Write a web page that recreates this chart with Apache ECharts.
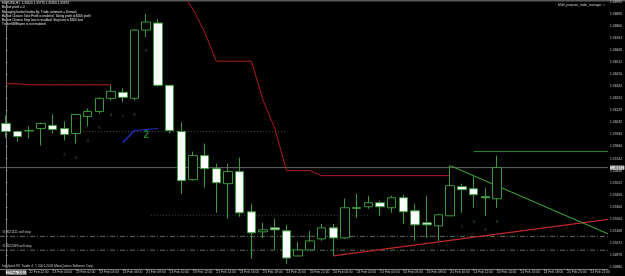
<!DOCTYPE html>
<html><head><meta charset="utf-8">
<script src="https://cdn.jsdelivr.net/npm/echarts@6/dist/echarts.min.js"></script>
<style>html,body{margin:0;padding:0;background:#000;}#c{width:625px;height:276px;}</style>
</head><body><div id="c"></div>
<script>
// ---- data ----
const times = [
 '22 Feb 20:00','22 Feb 21:00','22 Feb 22:00','22 Feb 23:00',
 '23 Feb 00:00','23 Feb 01:00','23 Feb 02:00','23 Feb 03:00','23 Feb 04:00','23 Feb 05:00',
 '23 Feb 06:00','23 Feb 07:00','23 Feb 08:00','23 Feb 09:00','23 Feb 10:00','23 Feb 11:00',
 '23 Feb 12:00','23 Feb 13:00','23 Feb 14:00','23 Feb 15:00','23 Feb 16:00','23 Feb 17:00',
 '23 Feb 18:00','23 Feb 19:00','23 Feb 20:00','23 Feb 21:00','23 Feb 22:00','23 Feb 23:00',
 '24 Feb 00:00','24 Feb 01:00','24 Feb 02:00','24 Feb 03:00','24 Feb 04:00','24 Feb 05:00',
 '24 Feb 06:00','24 Feb 07:00','24 Feb 08:00','24 Feb 09:00','24 Feb 10:00','24 Feb 11:00',
 '24 Feb 12:00','24 Feb 13:00','24 Feb 14:00','24 Feb 15:00','24 Feb 16:00','24 Feb 17:00',
 '24 Feb 18:00','24 Feb 19:00','24 Feb 20:00','24 Feb 21:00','24 Feb 22:00','24 Feb 23:00'
];
// [open, close, low, high]
const ohlc = [
 [1.36024,1.35960,1.35912,1.36088],
 [1.35960,1.35920,1.35880,1.35968],
 [1.35964,1.35968,1.35904,1.36000],
 [1.35984,1.36024,1.35848,1.36032],
 [1.36008,1.35976,1.35944,1.36096],
 [1.35984,1.35936,1.35888,1.36040],
 [1.35944,1.36096,1.35864,1.36096],
 [1.36080,1.36120,1.36000,1.36144],
 [1.36120,1.36224,1.36104,1.36232],
 [1.36224,1.36280,1.36208,1.36328],
 [1.36272,1.36232,1.36192,1.36304],
 [1.36224,1.36768,1.36208,1.36776],
 [1.36768,1.36832,1.36712,1.36896],
 [1.36824,1.36328,1.36320,1.36856],
 [1.36328,1.35968,1.35944,1.36328],
 [1.35960,1.35568,1.35464,1.36032],
 [1.35576,1.35768,1.35568,1.35800],
 [1.35768,1.35664,1.35512,1.35864],
 [1.35664,1.35552,1.35312,1.35704],
 [1.35544,1.35640,1.35264,1.35704],
 [1.35640,1.35312,1.35280,1.35752],
 [1.35320,1.35152,1.34944,1.35384],
 [1.35160,1.35176,1.35112,1.35232],
 [1.35192,1.35176,1.35016,1.35264],
 [1.35168,1.34952,1.34904,1.35216],
 [1.34968,1.35016,1.34968,1.35080],
 [1.35016,1.35088,1.35016,1.35168],
 [1.35104,1.35192,1.35088,1.35224],
 [1.35192,1.35112,1.34968,1.35224],
 [1.35112,1.35352,1.35104,1.35424],
 [1.35352,1.35348,1.35272,1.35464],
 [1.35360,1.35392,1.35344,1.35448],
 [1.35392,1.35360,1.35288,1.35408],
 [1.35352,1.35432,1.35312,1.35448],
 [1.35432,1.35320,1.35224,1.35456],
 [1.35328,1.35216,1.35088,1.35384],
 [1.35232,1.35216,1.35112,1.35448],
 [1.35208,1.35296,1.35088,1.35304],
 [1.35288,1.35528,1.35288,1.35688],
 [1.35520,1.35496,1.35312,1.35544],
 [1.35504,1.35456,1.35352,1.35600],
 [1.35440,1.35432,1.35288,1.35512],
 [1.35424,1.35672,1.35352,1.35768]
];
const redLine = [1.36340,1.36340,1.36332,1.36332,1.36332,1.36332,1.36332,1.36332,1.36332,1.36332,
 null,null,null,null,null,
 1.37072,1.36936,1.36752,1.36520,1.36520,1.36520,1.36520,1.36208,1.35984,1.35648,1.35648,1.35648,
 1.35608,1.35608,1.35608,1.35608,1.35608,1.35608,1.35608,1.35608,1.35608,1.35608,1.35608,1.35608];
const blueLine = [null,null,null,null,null,null,null,null,null,null,1.35872,1.35968,1.35976,1.35984];
const countBars = [5,6,7,8,9,10,11,12,39,40,41,42];
const countText = ['2','3','4','5','6','7','8','9','2','3','4','5'];
const redTrend = [[28,1.34968],[51.5,1.35260]];
const greenTrend = [[38,1.35688],[51.5,1.35144]];
const greenLevel = [[40,1.35800],[51.5,1.35800]];
const dotLevelA = [[6.35,1.35960],[23.94,1.35960]];
const dotLevelB = [[12.4,1.35292],[31.0,1.35292]];
const orderLevels = [1.35124,1.35014];
const orderNames = ['#18621111 sell stop','#18622083 sell stop'];
const waveLabel = {bar:12, price:1.35928, text:'2'};
const headerLines = [
 'EURUSD,H1  1.35420 1.35770 1.35350 1.35670',
 'Basket profit = 0',
 'Managing basket trades by: Trade comment = Demark',
 'Basket Closure Take Profit is enabled. Taking profit at $500 profit',
 'Basket Closure Stop loss is enabled. Stop loss is $500 loss',
 'TradesWillExpire is not enabled'
];
const eaName = 'Multi_purpose_trade_manager';
const copyright = 'Interbank FX Trader 4, \u00a9 2001-2009 MetaQuotes Software Corp.';
const yMin = 1.34880, yMax = 1.36992, yStep = 0.00096;

// ---- chart ----
const chart = echarts.init(document.getElementById('c'));
const FONT = 'Liberation Sans';
const GREEN = '#3a9a3a';
const lastClose = ohlc[ohlc.length-1][1];

function hline(data, color, type, width){
  return {type:'line', xAxisIndex:1, yAxisIndex:0, data, symbol:'none', silent:true,
    lineStyle:{color, width:width||1, type:type||'solid'}, z:3, animation:false};
}

const priceLine = hline([[-0.5,lastClose],[51.5,lastClose]], '#6a6a6a');
priceLine.endLabel = {show:true, formatter:()=>lastClose.toFixed(5), color:'#000', backgroundColor:'#e8e8e8',
  fontSize:3.4, fontFamily:FONT, padding:[1,1,0,1], distance:2};

const series = [
  priceLine,
  hline(dotLevelA, '#4a4a4a', [1,2]),
  hline(dotLevelB, '#3a4a3a', [1,2]),
  ...orderLevels.map(v => hline([[-0.5,v],[51.5,v]], '#5e6e5e', [5,2,1,2])),
  {type:'line', data:redLine, symbol:'none', connectNulls:false, lineStyle:{color:'#b01c1c', width:1}, z:4, animation:false},
  {type:'line', data:blueLine, symbol:'none', lineStyle:{color:'#2233cc', width:1.2}, z:4, animation:false},
  hline(redTrend, '#c02828', 'solid', 1.2),
  hline(greenTrend, '#3cb43c', 'solid', 1),
  hline(greenLevel, '#2e8b2e', 'solid', 1),
  {type:'candlestick', data:ohlc, barWidth:9, z:5, animation:false,
   itemStyle:{color:'#000000', color0:'#ffffff', borderColor:GREEN, borderColor0:GREEN, borderWidth:1}},
  {type:'scatter', data:countBars.map((b,i)=>({value:[b, ohlc[b][2]], name:countText[i]})),
   symbolSize:0, z:6, animation:false,
   label:{show:true, position:'inside', offset:[0,14], formatter:p=>p.name, color:'#3f8f3f', fontSize:4.2, fontFamily:FONT}},
  {type:'scatter', data:[{value:[waveLabel.bar, waveLabel.price], name:waveLabel.text}], symbolSize:0, z:6, animation:false,
   label:{show:true, position:'inside', formatter:p=>p.name, color:'#2f9a3a', fontSize:10, fontWeight:'bold', fontFamily:FONT}}
];

const graphics = [
  {type:'rect', shape:{x:0,y:0,width:625,height:1.5}, style:{fill:'#5a5a5a'}, silent:true},
  ...headerLines.map((t,i)=>({type:'text', left:2, top:2+i*4.1, silent:true,
     style:{text:t, fill:'#e8e8e8', fontSize:3.1, fontFamily:FONT}})),
  {type:'text', left:558, top:3.5, silent:true, style:{text:eaName+' \u263a', fill:'#d0d0d0', fontSize:3.2, fontFamily:FONT}},
  {type:'text', left:2, top:264.5, silent:true, style:{text:copyright, fill:'#c8c8c8', fontSize:3.2, fontFamily:FONT}},
  ...orderNames.map((t,i)=>({type:'text', left:2, top:[231,245][i], silent:true,
     style:{text:t, fill:'#c8c8c8', fontSize:3.3, fontFamily:FONT}}))
];

chart.setOption({
  backgroundColor:'#000000',
  animation:false,
  grid:{left:-3, right:13, top:2, bottom:9, containLabel:false},
  xAxis:[
    {type:'category', data:times, boundaryGap:true, offset:2,
     axisLine:{lineStyle:{color:'#7a7a7a'}},
     axisTick:{show:true, length:1.5, interval:(i)=>i%2===0, alignWithLabel:true, lineStyle:{color:'#9a9a9a'}},
     axisLabel:{interval:(i)=>i%2===0, align:'left', margin:1.5, fontSize:3.3, fontFamily:FONT, color:'#c8c8c8',
       formatter:(v,i)=> i===0 ? '{b|22 Feb 2010}' : v,
       rich:{b:{backgroundColor:'#e0e0e0', color:'#000', fontSize:3.3, fontFamily:FONT, padding:[1,1,0,1]}}},
     splitLine:{show:false}},
    {type:'value', min:-0.5, max:51.5, show:false}
  ],
  yAxis:[{type:'value', position:'right', min:yMin, max:yMax, interval:yStep, scale:true,
    axisLine:{show:true, lineStyle:{color:'#7a7a7a'}},
    axisTick:{show:true, length:1.5, lineStyle:{color:'#9a9a9a'}},
    axisLabel:{margin:2, fontSize:3.3, fontFamily:FONT, color:'#c8c8c8', formatter:v=>v.toFixed(5),
      showMinLabel:true, showMaxLabel:true},
    splitLine:{show:false}}],
  graphic:graphics,
  series
});
</script></body></html>
